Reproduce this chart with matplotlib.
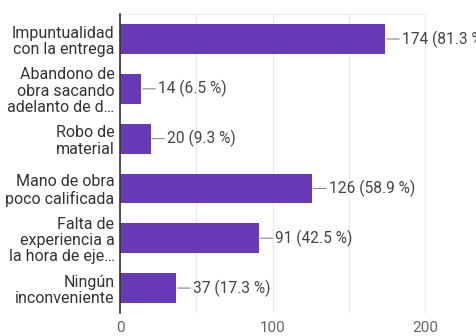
import matplotlib.pyplot as plt

categorias = [
    'Impuntualidad\ncon la entrega',
    'Abandono de\nobra sacando\nadelanto de d…',
    'Robo de\nmaterial',
    'Mano de obra\npoco calificada',
    'Falta de\nexperiencia a\nla hora de eje…',
    'Ningún\ninconveniente',
]
respuestas = [174, 14, 20, 126, 91, 37]
porcentajes = [81.3, 6.5, 9.3, 58.9, 42.5, 17.3]
ticks_x = [0, 100, 200]

plt.rcParams['font.family'] = ['Roboto', 'DejaVu Sans']

fig = plt.figure(figsize=(4.77, 3.36), dpi=100)
ax = fig.add_axes([0.2516, 0.0685, 0.6394, 0.8895])

y = list(range(len(categorias)))
ax.barh(y, respuestas, height=0.6, color='#673ab7', zorder=3)

for yi, n, p in zip(y, respuestas, porcentajes):
    ax.annotate(f'{n} ({p} %)', xy=(n, yi), xytext=(12, 0),
                textcoords='offset points', va='center', ha='left',
                fontsize=11.2, color='#444444', annotation_clip=False,
                arrowprops=dict(arrowstyle='-', color='#888888', lw=0.8,
                                shrinkA=0, shrinkB=1))

ax.set_xlim(0, 200)
ax.set_ylim(len(categorias) - 0.5, -0.5)
ax.set_xticks(ticks_x)
ax.set_xticks([50, 150], minor=True)
ax.tick_params(axis='x', which='both', length=0, labelsize=11,
               labelcolor='#666666', pad=6)
ax.set_yticks(y)
ax.set_yticklabels(categorias, fontsize=11.5, color='#333333', linespacing=1.12)
ax.tick_params(axis='y', length=0, pad=4)
ax.grid(axis='x', which='both', color='#e8e8e8', lw=0.9, zorder=0)

for s in ['top', 'right']:
    ax.spines[s].set_color('#eeeeee')
ax.spines['bottom'].set_visible(False)
ax.spines['left'].set_color('#333333')
ax.spines['left'].set_linewidth(1.2)
ax.spines['left'].set_zorder(4)

fig.savefig('out.png', dpi=100)
